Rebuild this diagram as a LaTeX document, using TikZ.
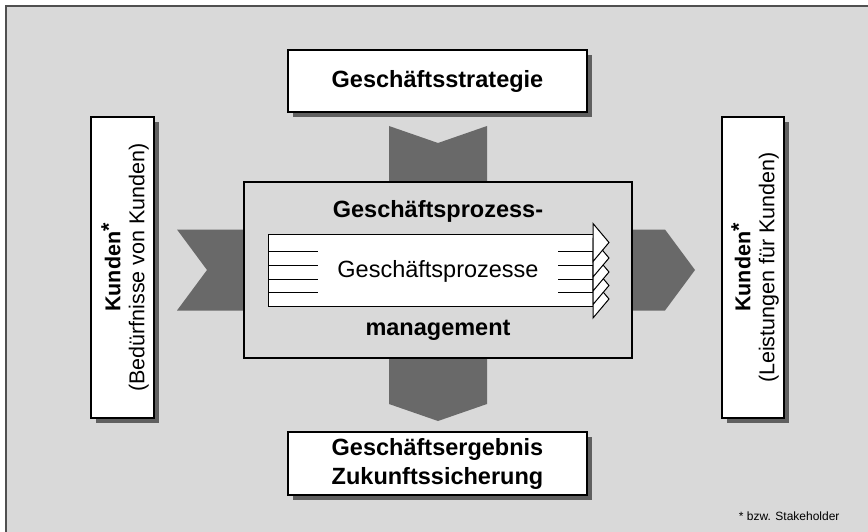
\documentclass[tikz,border=0pt]{standalone}
\usepackage{fontspec}
\setmainfont{Liberation Sans}
\usetikzlibrary{shadows,backgrounds}

\definecolor{hgrau}{RGB}{217,217,217}
\definecolor{dgrau}{RGB}{105,105,105}
\definecolor{sgrau}{RGB}{96,96,96}
\definecolor{rgrau}{RGB}{80,80,80}

\tikzset{
    kasten/.style={draw, fill=white, line width=1.2pt, inner sep=0pt, outer sep=0pt,
        drop shadow={shadow xshift=5pt, shadow yshift=-5pt, fill=sgrau, opacity=1}},
    gross/.style={font=\fontsize{23.5}{29}\selectfont\bfseries},
    normal/.style={font=\fontsize{23.5}{29}\selectfont},
    seite/.style={font=\fontsize{21.5}{24}\selectfont},
    pfeil/.style={fill=dgrau},
    prozess/.style={draw, fill=white, line width=1pt, line join=miter}
}

\begin{document}
\begin{tikzpicture}[x=1pt, y=-1pt]

\useasboundingbox (0,0) rectangle (868,532);

% Rahmen
\begin{scope}[on background layer]
    \fill[hgrau] (6,6) rectangle (868,532);
    \draw[rgrau, line width=1.5pt] (6,532) -- (6,6) -- (868,6);
\end{scope}

% Geschaeftsprozessmanagement
\node[draw, fill=hgrau, line width=1.2pt, inner sep=0pt, outer sep=0pt,
    minimum width=388pt, minimum height=176pt] (gpm) at (438,270) {};
\node[gross, anchor=base] (titel) at (438,217) {Geschäftsprozess-};
\node[gross, anchor=base] (untertitel) at (438,335) {management};

% Prozesspfeile
\draw[prozess] (268,234) rectangle (593,306);
\foreach \t in {299,285.5,272,258,242.5}
{
    \draw[prozess] (593,\t-19) -- (609,\t) -- (593,\t+19) -- cycle;
}
\foreach \y in {251,265,279,292}
{
    \draw[line width=1pt] (268,\y) -- (318,\y);
    \draw[line width=1pt] (558,\y) -- (593,\y);
}
\node[normal, anchor=base] (gp) at (438,277) {Geschäftsprozesse};

% Strategie und Ergebnis
\node[kasten, gross, minimum width=299pt, minimum height=62pt] (strategie) at (437.5,81) {Geschäftsstrategie};
\node[kasten, gross, align=center, minimum width=299pt, minimum height=63pt] (ergebnis) at (437.5,463.5) {Geschäftsergebnis\\Zukunftssicherung};

% Kunden
\node[kasten, minimum width=63pt, minimum height=301pt] (kundeneingang) at (122.5,267.5) {};
\node[seite, rotate=90, align=center] (beduerfnisse) at (125,267.5)
    {\textbf{Kunden\raisebox{.2em}{*}}\\(Bedürfnisse von Kunden)};
\node[kasten, minimum width=62pt, minimum height=301pt] (kundenausgang) at (753,267.5) {};
\node[seite, rotate=90, align=center] (leistungen) at (755,267.5)
    {\textbf{Kunden\raisebox{.2em}{*}}\\(Leistungen für Kunden)};

% Pfeile
\begin{scope}[on background layer]
    \fill[pfeil] (gpm.north) ++(-49,0) -- ++(0,-56) -- ++(49,17) -- ++(49,-17) -- ++(0,56) -- cycle;
    \fill[pfeil] (gpm.south) ++(-49,0) -- ++(0,46) -- ++(49,17) -- ++(49,-17) -- ++(0,-46) -- cycle;
    \fill[pfeil] (gpm.west) ++(0,-40.5) -- ++(-67,0) -- ++(30,40.5) -- ++(-30,40.5) -- ++(67,0) -- cycle;
    \fill[pfeil] (gpm.east) ++(0,-40.5) -- ++(33,0) -- ++(30,40.5) -- ++(-30,40.5) -- ++(-33,0) -- cycle;
\end{scope}

% Fussnote
\node[font=\fontsize{12}{14}\selectfont, anchor=base east] (fussnote) at (843,520) {* bzw. Stakeholder};

\end{tikzpicture}
\end{document}
